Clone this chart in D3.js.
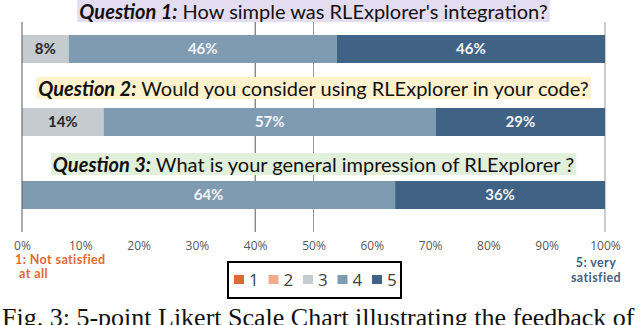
<!DOCTYPE html>
<meta charset="utf-8">
<style>
body {
  margin: 0;
  background: #fff;
  font-family: Lato, "Open Sans", sans-serif;
}
svg { display: block; }
.tick text {
  font-family: "Open Sans";
  font-size: 12px;
  fill: #595959;
}
.seg-label {
  font-family: Lato;
  font-weight: bold;
  font-size: 15px;
  text-anchor: middle;
}
.question {
  font-family: Lato;
  font-size: 20px;
  fill: #111;
}
</style>
<body>
<script src="https://cdn.jsdelivr.net/npm/d3@7"></script>
<script>

var width = 640,
    height = 325;

// data
var questions = ["Question 1:", "Question 2:", "Question 3:"];
var questionText = [
  " How simple was RLExplorer's integration?",
  " Would you consider using RLExplorer in your code?",
  " What is your general impression of RLExplorer ?"
];
var questionBg = ["#e4dcf0", "#fff2cc", "#e2efda"];
var levels = ["1", "2", "3", "4", "5"];
var levelColors = ["#e06a2e", "#f1ad8b", "#c6cbd0", "#7f9bb1", "#3f6285"];
var q1 = [0, 0, 8, 46, 46];
var q2 = [0, 0, 14, 57, 29];
var q3 = [0, 0, 0, 64, 36];
var ticks = [0, 10, 20, 30, 40, 50, 60, 70, 80, 90, 100];
var gridTicks = [40, 50];

var rows = [q1, q2, q3];

var x = d3.scaleLinear()
    .domain([0, 100])
    .range([22, 605]);

var y = d3.scalePoint()
    .domain(questions)
    .range([49, 195]);

var barH = 28;

var svg = d3.select("body").append("svg")
    .attr("width", width)
    .attr("height", height);

// gridlines at 40 / 50
svg.selectAll(".grid")
    .data(gridTicks)
  .enter().append("line")
    .attr("x1", function(d) { return x(d); })
    .attr("x2", function(d) { return x(d); })
    .attr("y1", 22)
    .attr("y2", 232)
    .attr("stroke", function(d, i) { return i == 0 ? "#555" : "#999"; })
    .attr("stroke-width", 1);

// right frame line
svg.append("line")
    .attr("x1", x(100)).attr("x2", x(100))
    .attr("y1", 22).attr("y2", 232)
    .attr("stroke", "#999");

// stacked bars
var stacked = rows.map(function(vals, r) {
  var acc = 0;
  return vals.map(function(v, i) {
    var s = { q: questions[r], level: i, x0: acc, x1: acc + v, value: v };
    acc += v;
    return s;
  }).filter(function(s) { return s.value > 0; });
});

var rowG = svg.selectAll(".row")
    .data(stacked)
  .enter().append("g")
    .attr("class", "row");

rowG.selectAll("rect")
    .data(function(d) { return d; })
  .enter().append("rect")
    .attr("x", function(d) { return x(d.x0); })
    .attr("width", function(d) { return x(d.x1) - x(d.x0); })
    .attr("y", function(d) { return y(d.q) - barH / 2; })
    .attr("height", barH)
    .attr("fill", function(d) { return levelColors[d.level]; });

rowG.selectAll(".seg-label")
    .data(function(d) { return d; })
  .enter().append("text")
    .attr("class", "seg-label")
    .attr("x", function(d) { return x((d.x0 + d.x1) / 2); })
    .attr("y", function(d) { return y(d.q) + 5; })
    .attr("fill", function(d) { return d.level == 2 ? "#262626" : "#f2f5f8"; })
    .text(function(d) { return d.value + "%"; });

// left axis line
svg.append("line")
    .attr("x1", x(0)).attr("x2", x(0))
    .attr("y1", 22).attr("y2", 232)
    .attr("stroke", "#595959");

// question titles with highlighted background
var titleY = [19, 96, 172];
var titles = svg.selectAll(".qtitle")
    .data(questions)
  .enter().append("g")
    .attr("class", "qtitle");

titles.each(function(d, i) {
  var g = d3.select(this);
  var bg = g.append("rect").attr("fill", questionBg[i]);
  var t = g.append("text")
      .attr("class", "question")
      .attr("x", (x(0) + x(100)) / 2)
      .attr("y", titleY[i])
      .attr("text-anchor", "middle");
  t.append("tspan")
      .attr("font-weight", "bold")
      .attr("font-style", "italic")
      .text(d);
  t.append("tspan").text(questionText[i]);
  var bb = t.node().getBBox();
  bg.attr("x", bb.x - 2)
    .attr("y", Math.max(0, bb.y + 1))
    .attr("width", bb.width + 4)
    .attr("height", bb.height - 2);
});

// x axis tick labels
var axis = svg.append("g")
    .attr("transform", "translate(0,238)")
    .call(d3.axisBottom(x).tickValues(ticks).tickSize(0).tickFormat(function(d) { return d + "%"; }));
axis.select(".domain").remove();

// end annotations
var leftNote = svg.append("text")
    .attr("font-family", "Lato")
    .attr("font-weight", "bold")
    .attr("font-size", "12.5px")
    .attr("letter-spacing", "0.4px")
    .attr("fill", "#e06a2e");
leftNote.append("tspan").attr("x", 15).attr("y", 264).text("1:  Not satisfied");
leftNote.append("tspan").attr("x", 19).attr("y", 278).text("at all");

var rightNote = svg.append("text")
    .attr("font-family", "Lato")
    .attr("font-weight", "bold")
    .attr("font-size", "12.5px")
    .attr("letter-spacing", "0.4px")
    .attr("fill", "#44627f")
    .attr("text-anchor", "middle");
rightNote.append("tspan").attr("x", 596).attr("y", 267).text("5:  very");
rightNote.append("tspan").attr("x", 596).attr("y", 282).text("satisfied");

// legend
var legend = svg.append("g")
    .attr("transform", "translate(228,262)");

legend.append("rect")
    .attr("width", 173)
    .attr("height", 36)
    .attr("fill", "none")
    .attr("stroke", "#000")
    .attr("stroke-width", 2);

var item = legend.selectAll(".item")
    .data(levels)
  .enter().append("g")
    .attr("class", "item")
    .attr("transform", function(d, i) { return "translate(" + (6 + i * 34.5) + ",0)"; });

item.append("rect")
    .attr("y", 13)
    .attr("width", 10)
    .attr("height", 9)
    .attr("fill", function(d, i) { return levelColors[i]; });

item.append("text")
    .attr("x", 15)
    .attr("y", 24)
    .attr("font-family", "Open Sans")
    .attr("font-size", "17px")
    .attr("fill", "#404040")
    .text(function(d) { return d; });

// caption (cut off at the bottom edge)
svg.append("text")
    .attr("x", 2)
    .attr("y", 326)
    .attr("font-family", "Liberation Serif")
    .attr("font-size", "26px")
    .attr("fill", "#111")
    .text("Fig. 3: 5-point Likert Scale Chart illustrating the feedback of five participants");

</script>
